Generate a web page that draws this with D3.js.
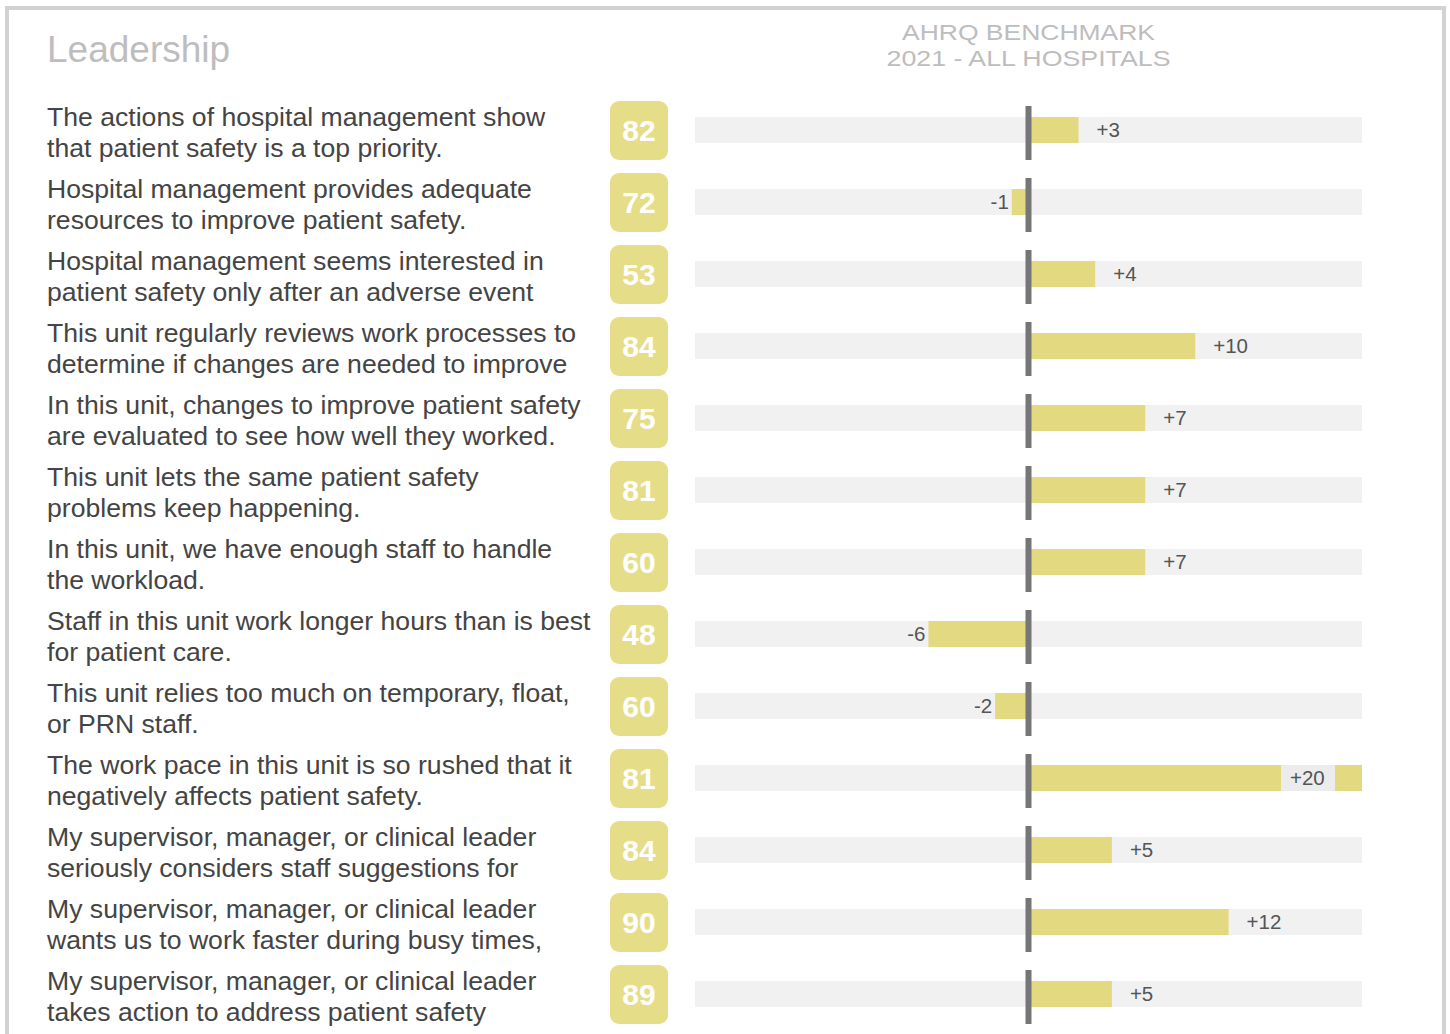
<!DOCTYPE html>
<html>
<head>
<meta charset="utf-8">
<script src="https://cdn.jsdelivr.net/npm/d3@7"></script>
<style>
  html, body { margin: 0; padding: 0; background: #fff; }
  svg { display: block; font-family: "Liberation Sans", Arial, sans-serif; }
</style>
</head>
<body>
<svg id="chart" width="1450" height="1034"></svg>
<script>
// ---- data ----
const questionLines = [
    ['The actions of hospital management show', 'that patient safety is a top priority.'],
    ['Hospital management provides adequate', 'resources to improve patient safety.'],
    ['Hospital management seems interested in', 'patient safety only after an adverse event'],
    ['This unit regularly reviews work processes to', 'determine if changes are needed to improve'],
    ['In this unit, changes to improve patient safety', 'are evaluated to see how well they worked.'],
    ['This unit lets the same patient safety', 'problems keep happening.'],
    ['In this unit, we have enough staff to handle', 'the workload.'],
    ['Staff in this unit work longer hours than is best', 'for patient care.'],
    ['This unit relies too much on temporary, float,', 'or PRN staff.'],
    ['The work pace in this unit is so rushed that it', 'negatively affects patient safety.'],
    ['My supervisor, manager, or clinical leader', 'seriously considers staff suggestions for'],
    ['My supervisor, manager, or clinical leader', 'wants us to work faster during busy times,'],
    ['My supervisor, manager, or clinical leader', 'takes action to address patient safety']
];
const scores = [82, 72, 53, 84, 75, 81, 60, 48, 60, 81, 84, 90, 89];
const benchmarkDiffs = [3, -1, 4, 10, 7, 7, 7, -6, -2, 20, 5, 12, 5];

const TITLE = 'Leadership';
const HEADER_LINES = ['AHRQ BENCHMARK', '2021 - ALL HOSPITALS'];

// ---- colours ----
const YELLOW = '#e3d981';
const BADGE = '#e6dd89';
const TRACK = '#f1f1f1';
const TEXT = '#444';
const MUTED = '#bdbdbd';

const svg = d3.select('#chart');

// outer frame (bottom runs off the page)
svg.append('rect')
    .attr('x', 7).attr('y', 8)
    .attr('width', 1437).attr('height', 1100)
    .attr('fill', 'none')
    .attr('stroke', '#d2d2d2')
    .attr('stroke-width', 4);

svg.append('text')
    .attr('x', 47).attr('y', 62)
    .attr('font-size', 37)
    .attr('fill', MUTED)
    .text(TITLE);

// scales
const y = d3.scaleBand()
    .domain(d3.range(scores.length))
    .range([94, 94 + 72 * scores.length]);

const x = d3.scaleLinear()
    .domain([-20, 20])
    .range([695, 1362]);

const zeroX = x(0);

// header is squat in the original: short caps, wide glyphs
svg.append('g')
    .selectAll('text')
    .data(HEADER_LINES)
    .join('text')
    .attr('x', zeroX)
    .attr('y', (d, i) => 40 + i * 26)
    .attr('text-anchor', 'middle')
    .attr('font-size', 22)
    .attr('textLength', (d, i) => i === 0 ? 253 : 284)
    .attr('lengthAdjust', 'spacingAndGlyphs')
    .attr('fill', MUTED)
    .text(d => d);

const rows = svg.append('g')
    .selectAll('g.row')
    .data(scores.map((s, i) => ({ i, score: s, diff: benchmarkDiffs[i], lines: questionLines[i] })))
    .join('g')
    .attr('class', 'row')
    .attr('transform', d => `translate(0,${y(d.i) + y.bandwidth() / 2})`);

// question text
rows.append('text')
    .attr('font-size', 26.6)
    .attr('fill', TEXT)
    .selectAll('tspan')
    .data(d => d.lines)
    .join('tspan')
    .attr('x', 47)
    .attr('y', (d, i) => -4 + i * 31)
    .text(d => d);

// score badge
rows.append('rect')
    .attr('x', 610).attr('y', -29)
    .attr('width', 58).attr('height', 59)
    .attr('rx', 9)
    .attr('fill', BADGE);

rows.append('text')
    .attr('x', 639).attr('y', 11)
    .attr('text-anchor', 'middle')
    .attr('font-size', 30)
    .attr('font-weight', 'bold')
    .attr('fill', '#fff')
    .text(d => d.score);

// track
rows.append('rect')
    .attr('x', x(-20)).attr('y', -13)
    .attr('width', x(20) - x(-20)).attr('height', 26)
    .attr('fill', TRACK);

// difference bar
rows.append('rect')
    .attr('x', d => Math.min(x(d.diff), zeroX))
    .attr('y', -13)
    .attr('width', d => Math.abs(x(d.diff) - zeroX))
    .attr('height', 26)
    .attr('fill', YELLOW);

// value label, with a track-coloured backing so it stays legible on a full bar
const labels = rows.append('g')
    .attr('transform', d => {
        if (d.diff >= 0) return `translate(${Math.min(x(d.diff) + 18, x(20) - 72)},0)`;
        return `translate(${x(d.diff) - 3},0)`;
    });

labels.append('rect')
    .attr('x', -9)
    .attr('y', -13)
    .attr('width', 54)
    .attr('height', 26)
    .attr('fill', d => d.diff >= 0 && x(d.diff) + 18 > x(20) - 72 ? '#ececec' : 'none');

labels.append('text')
    .attr('y', 7)
    .attr('text-anchor', d => d.diff >= 0 ? 'start' : 'end')
    .attr('font-size', 20.5)
    .attr('fill', '#555')
    .text(d => (d.diff > 0 ? '+' : '') + d.diff);

// benchmark line
rows.append('rect')
    .attr('x', zeroX - 3).attr('y', -24)
    .attr('width', 6).attr('height', 54)
    .attr('fill', '#767676');
</script>
</body>
</html>
